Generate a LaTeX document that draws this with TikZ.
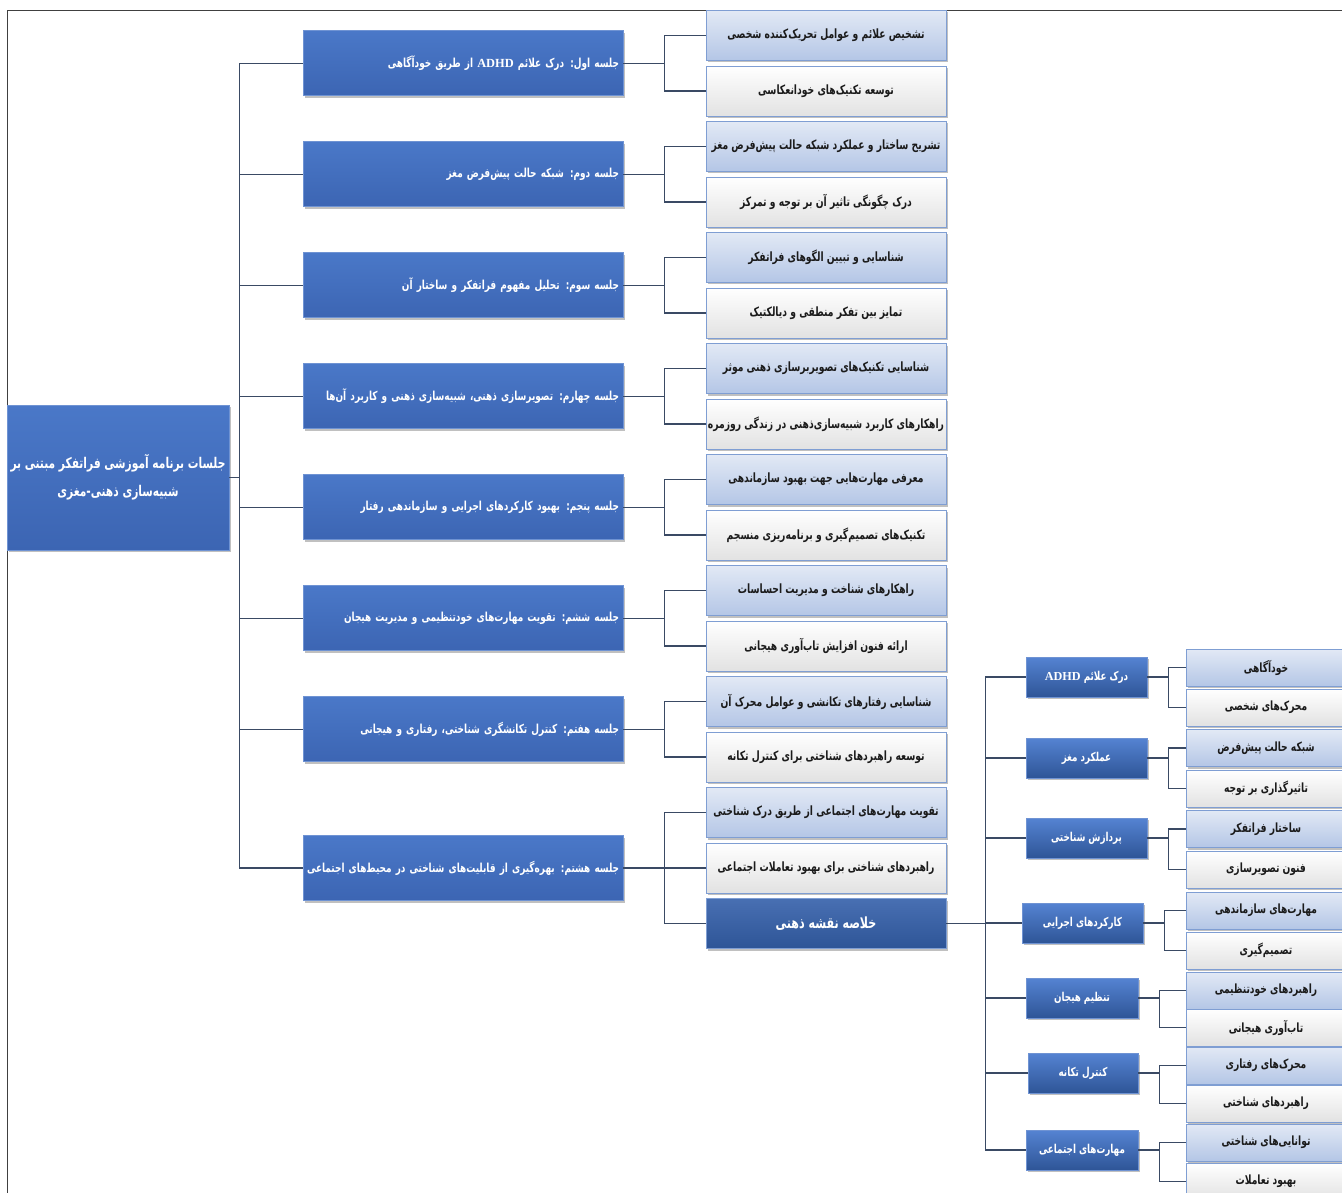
\documentclass[tikz,border=0pt]{standalone}
\usepackage{fontspec}
\TeXXeTstate=1
\newfontfamily\farsi[Script=Arabic,FakeStretch=0.72]{DejaVu Sans}
\newfontfamily\latb{Liberation Serif}
\usetikzlibrary{shadows,calc}
\definecolor{sessA}{HTML}{4A78C8}
\definecolor{sessB}{HTML}{3C65B3}
\definecolor{sessE}{HTML}{6F93D3}
\definecolor{midA}{HTML}{5583D2}
\definecolor{midB}{HTML}{2E5597}
\definecolor{lightA}{HTML}{E2E9F5}
\definecolor{lightB}{HTML}{B4C6E6}
\definecolor{boxE}{HTML}{7F9ED3}
\definecolor{whiteB}{HTML}{E2E2E2}
\definecolor{connC}{HTML}{3A4A64}
\definecolor{txtD}{HTML}{1B1B1B}
\newcommand\fa[1]{\mbox{\farsi\bfseries\beginR #1\endR}}
\newcommand\adhd{\beginL{\latb\bfseries ADHD}\endL}
\tikzset{
  x=1pt, y=-1pt,
  conn/.style={draw=connC, line width=1.4pt},
  shd/.style={drop shadow={shadow xshift=1.5pt, shadow yshift=-2pt, opacity=0.35, fill=black!70}},
  rootbox/.style={rectangle, inner sep=3pt, minimum width=222, minimum height=145, top color=sessA, bottom color=sessB, draw=sessE, line width=0.6pt, text=white, align=center, font=\fontsize{14.8}{28}\selectfont, shd},
  sess/.style={rectangle, inner sep=4pt, text width=312, minimum height=65, top color=sessA, bottom color=sessB, draw=sessE, line width=0.6pt, text=white, align=right, font=\fontsize{12.4}{15}\selectfont, shd},
  lchild/.style={rectangle, inner sep=1pt, minimum width=240, minimum height=50, top color=lightA, bottom color=lightB, draw=boxE, line width=0.8pt, text=txtD, align=center, font=\fontsize{12.8}{15}\selectfont, shd},
  wchild/.style={lchild, top color=white, bottom color=whiteB},
  dchild/.style={lchild, top color=midA!85!black, bottom color=midB, text=white, font=\fontsize{15.4}{17}\selectfont},
  mid/.style={rectangle, inner sep=2pt, minimum height=40, top color=midA, bottom color=midB, draw=sessE, line width=0.6pt, text=white, align=center, font=\fontsize{12.2}{14}\selectfont, shd},
  lleaf/.style={rectangle, inner sep=2pt, minimum width=160, minimum height=37, top color=lightA, bottom color=lightB, draw=boxE, line width=0.8pt, text=txtD, font=\fontsize{12.7}{14}\selectfont, shd},
  wleaf/.style={lleaf, top color=white, bottom color=whiteB},
}
\begin{document}
\begin{tikzpicture}
\useasboundingbox (0,0) rectangle (1342,1193);
\fill[white] (0,0) rectangle (1342,1193);
\coordinate (frTL) at (7,10);
\coordinate (frTR) at (1342,10);
\coordinate (frBL) at (7,1193);
\draw[black!75, line width=0.8pt] (frBL) -- (frTL) -- (frTR);

% root
\node[rootbox] (root) at (118,477.5) {\fa{جلسات برنامه آموزشی فراتفکر مبتنی بر}\\\fa{شبیه‌سازی ذهنی-مغزی}};

% sessions
\node[sess] (s1) at (463,63.25) {\fa{جلسه اول: درک علائم \adhd{} از طریق خودآگاهی}};
\node[sess] (s2) at (463,174.25) {\fa{جلسه دوم: شبکه حالت پیش‌فرض مغز}};
\node[sess] (s3) at (463,285.25) {\fa{جلسه سوم: تحلیل مفهوم فراتفکر و ساختار آن}};
\node[sess] (s4) at (463,396.25) {\fa{جلسه چهارم: تصویرسازی ذهنی، شبیه‌سازی ذهنی و کاربرد آن‌ها}};
\node[sess] (s5) at (463,507.25) {\fa{جلسه پنجم: بهبود کارکردهای اجرایی و سازماندهی رفتار}};
\node[sess] (s6) at (463,618.25) {\fa{جلسه ششم: تقویت مهارت‌های خودتنظیمی و مدیریت هیجان}};
\node[sess] (s7) at (463,729.25) {\fa{جلسه هفتم: کنترل تکانشگری شناختی، رفتاری و هیجانی}};
\node[sess] (s8) at (463,868) {\fa{جلسه هشتم: بهره‌گیری از قابلیت‌های شناختی در محیط‌های اجتماعی}};

% children
\node[lchild] (c1a) at (826,35.5) {\fa{تشخیص علائم و عوامل تحریک‌کننده شخصی}};
\node[wchild] (c1b) at (826,91) {\fa{توسعه تکنیک‌های خودانعکاسی}};
\node[lchild] (c2a) at (826,146.5) {\fa{تشریح ساختار و عملکرد شبکه حالت پیش‌فرض مغز}};
\node[wchild] (c2b) at (826,202) {\fa{درک چگونگی تاثیر آن بر توجه و تمرکز}};
\node[lchild] (c3a) at (826,257.5) {\fa{شناسایی و تبیین الگوهای فراتفکر}};
\node[wchild] (c3b) at (826,313) {\fa{تمایز بین تفکر منطقی و دیالکتیک}};
\node[lchild] (c4a) at (826,368.5) {\fa{شناسایی تکنیک‌های تصویربرسازی ذهنی موثر}};
\node[wchild] (c4b) at (826,424) {\fa{راهکارهای کاربرد شبیه‌سازی‌ذهنی در زندگی روزمره}};
\node[lchild] (c5a) at (826,479.5) {\fa{معرفی مهارت‌هایی جهت بهبود سازماندهی}};
\node[wchild] (c5b) at (826,535) {\fa{تکنیک‌های تصمیم‌گیری و برنامه‌ریزی منسجم}};
\node[lchild] (c6a) at (826,590.5) {\fa{راهکارهای شناخت و مدیریت احساسات}};
\node[wchild] (c6b) at (826,646) {\fa{ارائه فنون افزایش تاب‌آوری هیجانی}};
\node[lchild] (c7a) at (826,701.5) {\fa{شناسایی رفتارهای تکانشی و عوامل محرک آن}};
\node[wchild] (c7b) at (826,757) {\fa{توسعه راهبردهای شناختی برای کنترل تکانه}};
\node[lchild] (c8a) at (826,812.5) {\fa{تقویت مهارت‌های اجتماعی از طریق درک شناختی}};
\node[wchild] (c8b) at (826,868) {\fa{راهبردهای شناختی برای بهبود تعاملات اجتماعی}};
\node[dchild] (sum) at (826,923.5) {\fa{خلاصه نقشه ذهنی}};

% mids
\node[mid, minimum width=121] (m1) at (1086.5,677) {\fa{درک علائم \adhd}};
\node[mid, minimum width=121] (m2) at (1086.5,758) {\fa{عملکرد مغز}};
\node[mid, minimum width=121] (m3) at (1086.5,838) {\fa{پردازش شناختی}};
\node[mid, minimum width=121] (m4) at (1082.5,923) {\fa{کارکردهای اجرایی}};
\node[mid, minimum width=112] (m5) at (1082,998) {\fa{تنظیم هیجان}};
\node[mid, minimum width=110] (m6) at (1083,1073) {\fa{کنترل تکانه}};
\node[mid, minimum width=112] (m7) at (1082,1150) {\fa{مهارت‌های اجتماعی}};

% leaves
\node[lleaf] (l1) at (1266,667.5) {\fa{خودآگاهی}};
\node[wleaf] (l2) at (1266,707.5) {\fa{محرک‌های شخصی}};
\node[lleaf] (l3) at (1266,748) {\fa{شبکه حالت پیش‌فرض}};
\node[wleaf] (l4) at (1266,788.5) {\fa{تاثیرگذاری بر توجه}};
\node[lleaf] (l5) at (1266,829) {\fa{ساختار فراتفکر}};
\node[wleaf] (l6) at (1266,869.5) {\fa{فنون تصویرسازی}};
\node[lleaf] (l7) at (1266,910.5) {\fa{مهارت‌های سازماندهی}};
\node[wleaf] (l8) at (1266,950.5) {\fa{تصمیم‌گیری}};
\node[lleaf] (l9) at (1266,990.5) {\fa{راهبردهای خودتنظیمی}};
\node[wleaf] (l10) at (1266,1027.5) {\fa{تاب‌آوری هیجانی}};
\node[lleaf] (l11) at (1266,1065.5) {\fa{محرک‌های رفتاری}};
\node[wleaf] (l12) at (1266,1103.5) {\fa{راهبردهای شناختی}};
\node[lleaf] (l13) at (1266,1142.5) {\fa{توانایی‌های شناختی}};
\node[wleaf] (l14) at (1266,1181.5) {\fa{بهبود تعاملات}};

% connectors: root to sessions
\foreach \s in {s1,s2,s3,s4,s5,s6,s7,s8}
  \draw[conn] (root.east) -- ++(10,0) |- (\s.west);
% sessions to children
\foreach \s/\a/\b in {s1/c1a/c1b, s2/c2a/c2b, s3/c3a/c3b, s4/c4a/c4b, s5/c5a/c5b, s6/c6a/c6b, s7/c7a/c7b}{
  \draw[conn] (\s.east) -- ++(41,0) |- (\a.west);
  \draw[conn] (\s.east) -- ++(41,0) |- (\b.west);
}
\draw[conn] (s8.east) -- ++(41,0) |- (c8a.west);
\draw[conn] (s8.east) -- (c8b.west);
\draw[conn] (s8.east) -- ++(41,0) |- (sum.west);
% summary to mids
\foreach \m in {m1,m2,m3,m4,m5,m6,m7}
  \draw[conn] (sum.east) -- ++(39,0) |- (\m.west);
% mids to leaves
\foreach \m/\a/\b in {m1/l1/l2, m2/l3/l4, m3/l5/l6, m4/l7/l8, m5/l9/l10, m6/l11/l12, m7/l13/l14}{
  \draw[conn] (\m.east) -- ++(21,0) |- (\a.west);
  \draw[conn] (\m.east) -- ++(21,0) |- (\b.west);
}
\end{tikzpicture}
\end{document}
